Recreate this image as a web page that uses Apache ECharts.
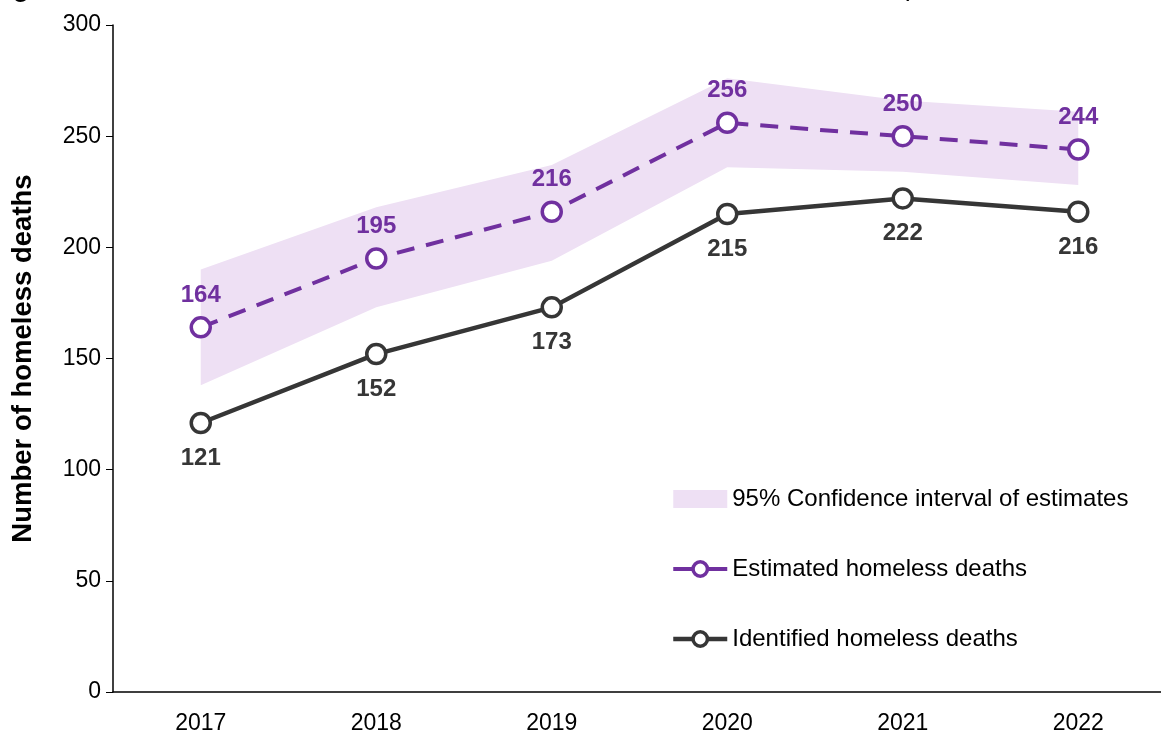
<!DOCTYPE html>
<html>
<head>
<meta charset="utf-8">
<script src="https://cdn.jsdelivr.net/npm/echarts@6/dist/echarts.min.js"></script>
<style>
  html, body { margin: 0; padding: 0; background: #fff; }
  #chart { width: 1161px; height: 733px; }
</style>
</head>
<body>
<div id="chart"></div>
<script>
// data
const years = ['2017', '2018', '2019', '2020', '2021', '2022']
const estimated = [164, 195, 216, 256, 250, 244]
const identified = [121, 152, 173, 215, 222, 216]
const ciLower = [138, 173, 194, 236, 234, 228]
const ciUpper = [190, 218, 237, 276, 266, 261]
const yTicks = [0, 50, 100, 150, 200, 250, 300]

const purple = '#70309F'
const dark = '#363636'
const band = '#EEE0F4'
const font = 'Liberation Sans, Arial, sans-serif'

const chart = echarts.init(document.getElementById('chart'))

const option = {
  animation: false,
  title: {
    // only the bottom sliver of the title shows in the original
    text: 'Figure 1: Identified and estimated number of homeless deaths in Scotland, 2017-2022',
    left: -10,
    top: -23,
    padding: 0,
    textStyle: { fontFamily: font, fontSize: 26, fontWeight: 'bold', color: '#000' },
  },
  grid: {
    left: 113,
    top: 25,
    bottom: 41,
    width: 1053,
    containLabel: false,
    outerBoundsMode: 'none',
  },
  legend: {
    orient: 'vertical',
    left: 671,
    top: 487,
    padding: 0,
    itemGap: 46,
    itemWidth: 54,
    itemHeight: 18,
    textStyle: { fontFamily: font, fontSize: 24, color: '#000' },
    data: [
      { name: '95% Confidence interval of estimates', icon: 'rect' },
      {
        name: 'Estimated homeless deaths',
        lineStyle: { width: 4, type: 'solid' },
        itemStyle: { borderWidth: 3.5 },
      },
      {
        name: 'Identified homeless deaths',
        lineStyle: { width: 4.5 },
        itemStyle: { borderWidth: 3.5 },
      },
    ],
  },
  xAxis: {
    type: 'category',
    data: years,
    boundaryGap: true,
    axisLine: { lineStyle: { color: '#000', width: 1.5 } },
    axisTick: { alignWithLabel: true, length: 6, lineStyle: { color: '#000' } },
    axisLabel: { fontFamily: font, fontSize: 23, color: '#000', margin: 20 },
  },
  yAxis: {
    type: 'value',
    min: yTicks[0],
    max: yTicks[yTicks.length - 1],
    interval: 50,
    name: 'Number of homeless deaths',
    nameLocation: 'middle',
    nameGap: 76,
    nameTextStyle: { fontFamily: font, fontSize: 27.5, fontWeight: 'bold', color: '#000' },
    axisLine: { show: true, lineStyle: { color: '#000', width: 1.5 } },
    axisTick: { show: true, length: 7, lineStyle: { color: '#000' } },
    axisLabel: { fontFamily: font, fontSize: 23, color: '#000', margin: 12 },
    splitLine: { show: false },
  },
  series: [
    {
      name: 'ciBase',
      type: 'line',
      stack: 'ci',
      data: ciLower,
      symbol: 'none',
      lineStyle: { width: 0, opacity: 0 },
      silent: true,
      z: 1,
    },
    {
      name: '95% Confidence interval of estimates',
      type: 'line',
      stack: 'ci',
      data: ciUpper.map((v, i) => v - ciLower[i]),
      symbol: 'none',
      itemStyle: { color: band },
      lineStyle: { width: 0, opacity: 0 },
      areaStyle: { color: band, opacity: 1 },
      silent: true,
      z: 1,
    },
    {
      name: 'Estimated homeless deaths',
      type: 'line',
      data: estimated,
      symbol: 'circle',
      symbolSize: 19,
      itemStyle: { color: '#fff', borderColor: purple, borderWidth: 3.5 },
      lineStyle: { color: purple, width: 4, type: [18, 12] },
      label: {
        show: true,
        position: 'top',
        distance: 9,
        fontFamily: font,
        fontSize: 24,
        fontWeight: 'bold',
        color: purple,
      },
      z: 3,
    },
    {
      name: 'Identified homeless deaths',
      type: 'line',
      data: identified,
      symbol: 'circle',
      symbolSize: 19,
      itemStyle: { color: '#fff', borderColor: dark, borderWidth: 3.5 },
      lineStyle: { color: dark, width: 4.5 },
      label: {
        show: true,
        position: 'bottom',
        distance: 12,
        fontFamily: font,
        fontSize: 24,
        fontWeight: 'bold',
        color: dark,
      },
      z: 3,
    },
  ],
}

chart.setOption(option)
</script>
</body>
</html>
